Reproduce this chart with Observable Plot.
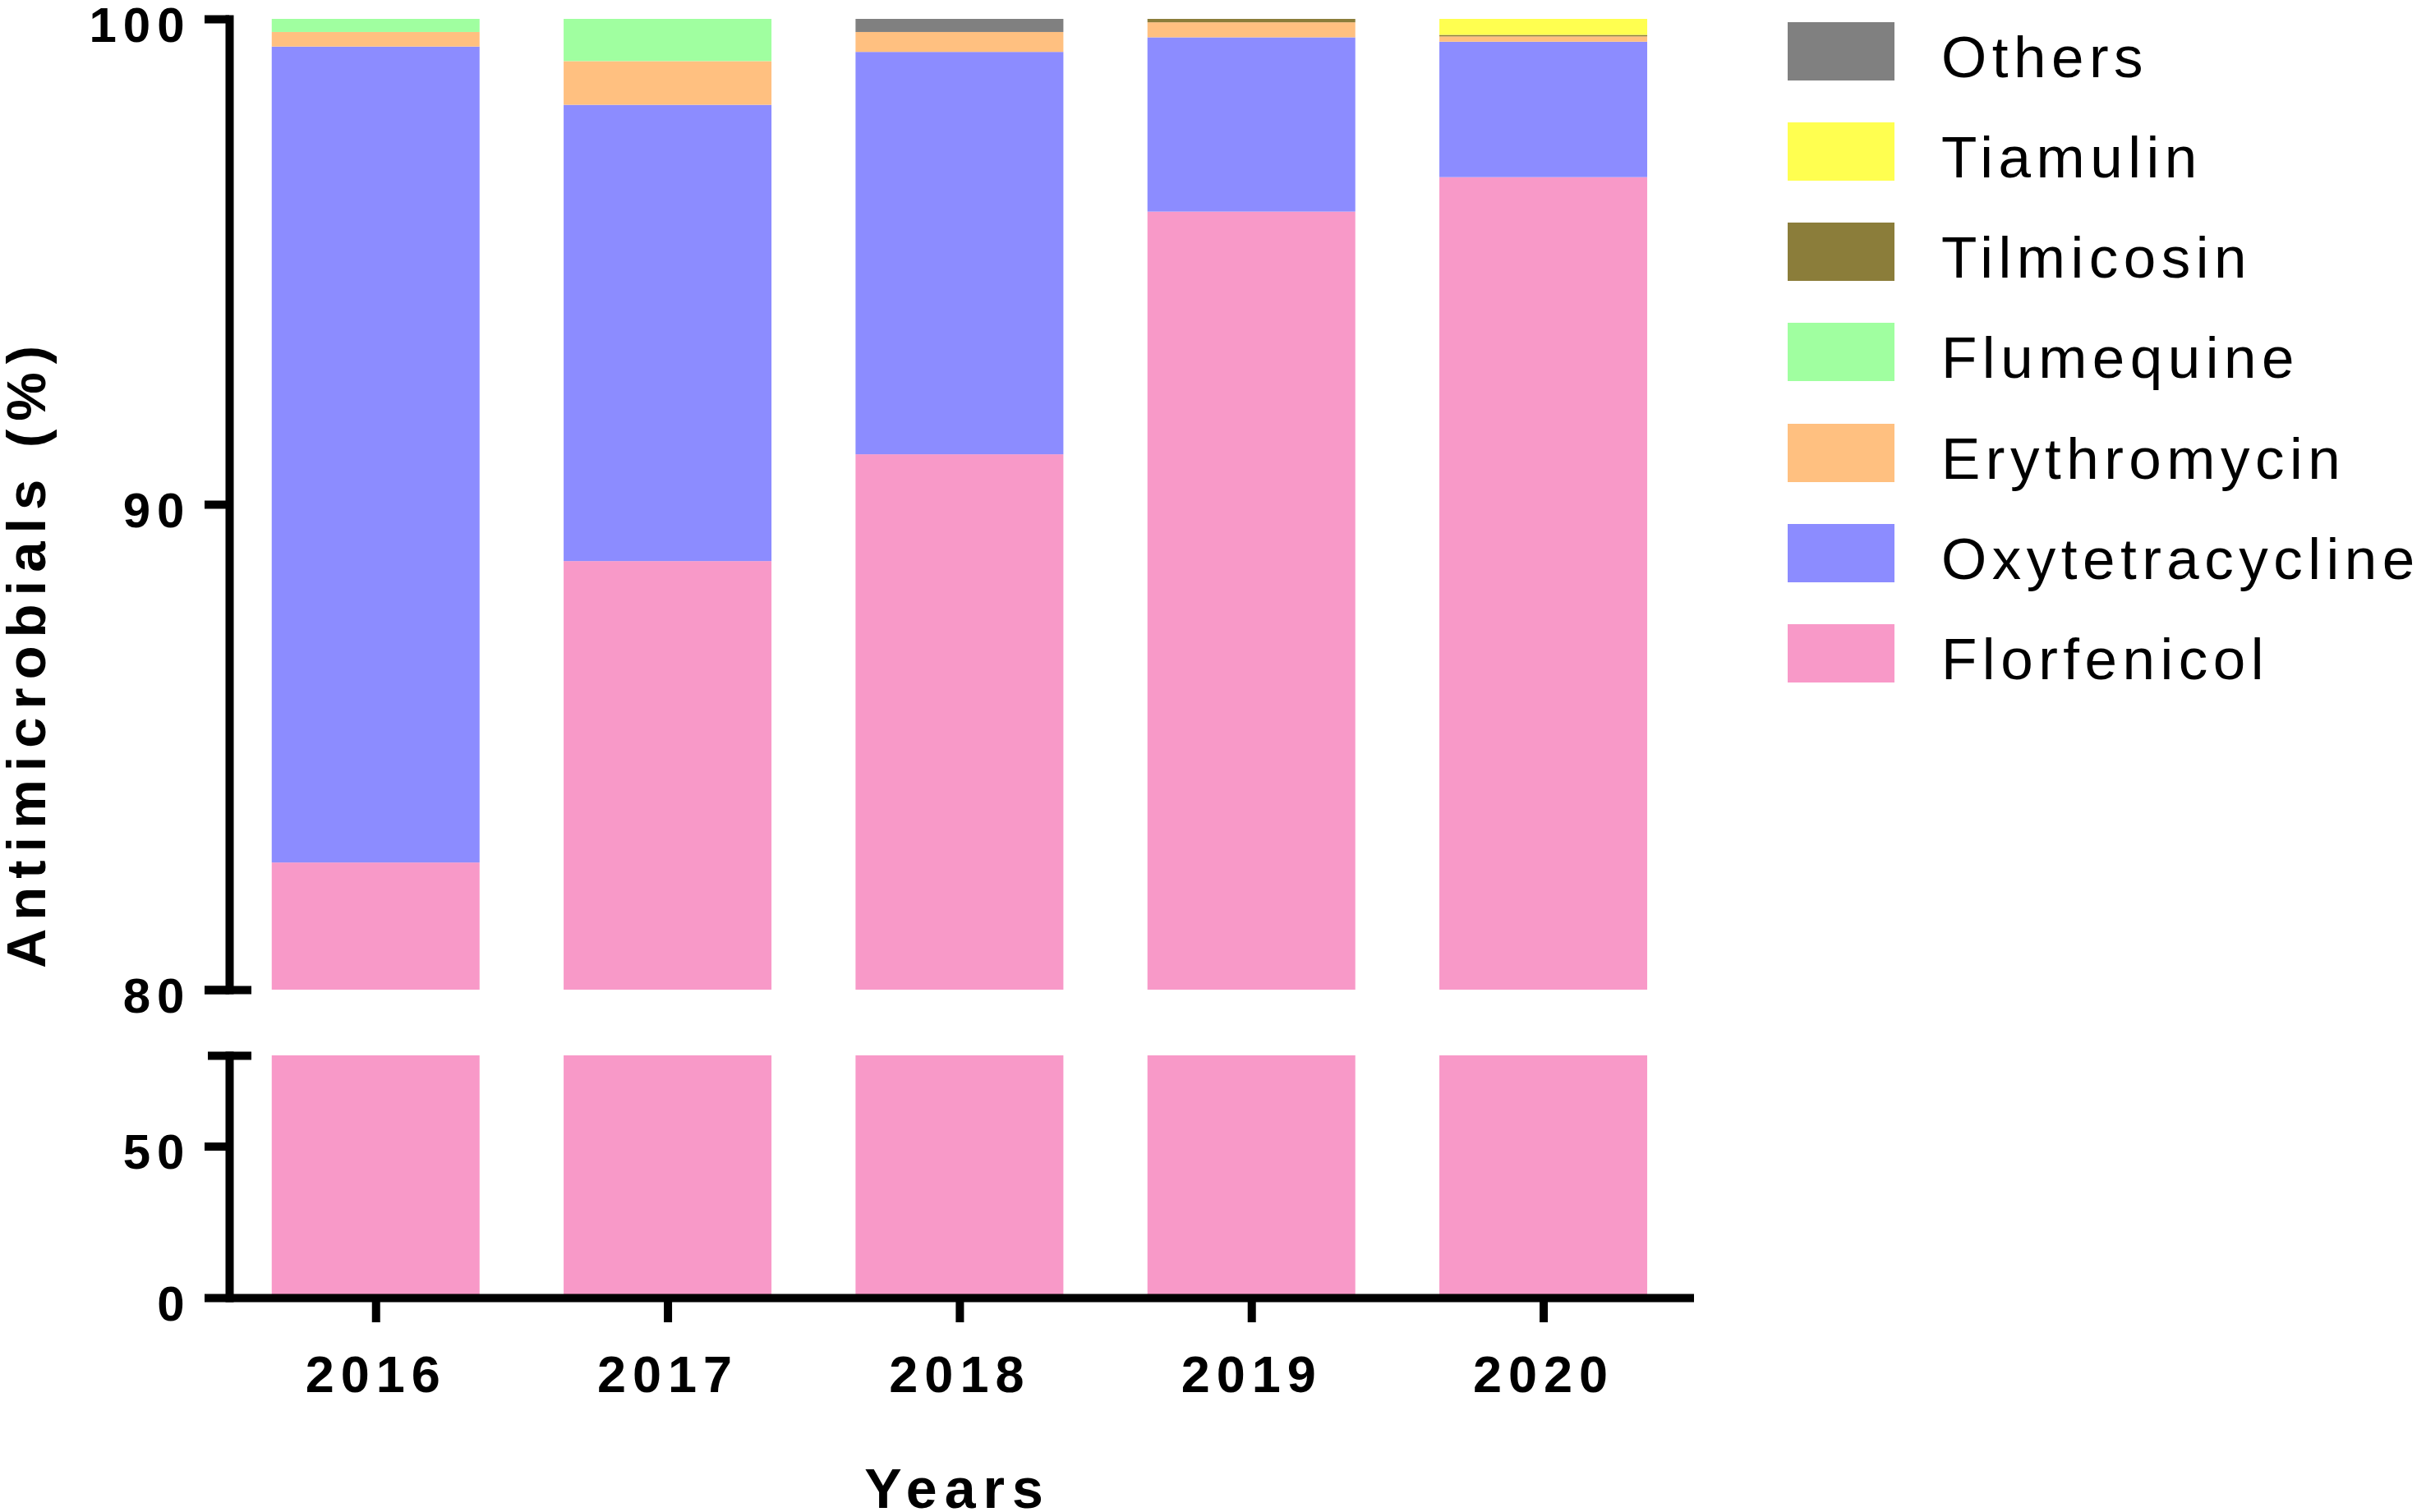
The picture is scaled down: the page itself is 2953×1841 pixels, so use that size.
<!DOCTYPE html>
<html><head><meta charset="utf-8">
<script src="https://cdn.jsdelivr.net/npm/d3@7"></script>
<script src="https://cdn.jsdelivr.net/npm/@observablehq/plot@0.6"></script>
<style>
html,body{margin:0;padding:0;background:#fff;}
#root{position:relative;width:2953px;height:1841px;overflow:hidden;background:#fff;font-family:'Liberation Sans',Arial,sans-serif;color:#000;}
.abs{position:absolute;}
svg{max-width:none !important;}
</style></head><body><div id="root"></div>
<script>
// ---- data ----
const years = ["2016", "2017", "2018", "2019", "2020"];
const drugs = ["Others", "Tiamulin", "Tilmicosin", "Flumequine", "Erythromycin", "Oxytetracycline", "Florfenicol"]; // legend order (top to bottom)
const colors = ["#808080", "#FFFF50", "#8B7D3A", "#A0FFA0", "#FFC080", "#8C8CFF", "#F899C8"];
const florfenicol     = [82.62, 88.83, 91.03, 96.03, 96.74];
const oxytetracycline = [16.81,  9.40,  8.29,  3.59,  2.79];
const erythromycin    = [ 0.30,  0.90,  0.41,  0.31,  0.11];
const flumequine      = [ 0.27,  0.87,  0.00,  0.00,  0.00];
const tilmicosin      = [ 0.00,  0.00,  0.00,  0.07,  0.03];
const tiamulin        = [ 0.00,  0.00,  0.00,  0.00,  0.33];
const others          = [ 0.00,  0.00,  0.27,  0.00,  0.00];
const upperTicks = [80, 90, 100];
const lowerTicks = [0, 50];

const series = {Florfenicol: florfenicol, Oxytetracycline: oxytetracycline, Erythromycin: erythromycin,
  Flumequine: flumequine, Tilmicosin: tilmicosin, Tiamulin: tiamulin, Others: others};
const stackOrder = drugs.slice().reverse();
const data = stackOrder.flatMap(drug => years.map((year, i) => ({year, drug, value: series[drug][i]})));

// ---- shared options ----
const font = "'Liberation Sans', Arial, sans-serif";
const xScale = {type: "band", domain: years, paddingInner: 0.288, paddingOuter: 0.153, align: 0.476, round: false};
const colorScale = {domain: drugs, range: colors};
const svgStyle = {fontFamily: font, fontWeight: "bold", fontSize: "60px", letterSpacing: "8px",
  color: "#000", background: "transparent", overflow: "visible", maxWidth: "none"};
const bars = () => Plot.barY(data, {x: "year", y: "value", fill: "drug", order: stackOrder, clip: true});

const upper = Plot.plot({
  width: 2100, height: 1240, marginTop: 23, marginBottom: 35, marginLeft: 279, marginRight: 38,
  x: {...xScale, axis: null},
  y: {domain: [80, 100], label: null},
  color: colorScale,
  style: svgStyle,
  marks: [
    bars(),
    Plot.frame({anchor: "left", stroke: "#000", strokeWidth: 10}),
    Plot.axisY({ticks: upperTicks, tickSize: 30, strokeWidth: 10, stroke: "#000", fill: "none", label: null}),
    Plot.axisY({ticks: [80], tickSize: 57, dx: 27, strokeWidth: 10, stroke: "#000", fill: "none", label: null}),
    Plot.axisY({ticks: upperTicks, tickSize: 0, tickPadding: 47, dy: 8, fontSize: 60, fill: "#000", label: null, tickFormat: d => String(d)})
  ]
});

const lower = Plot.plot({
  width: 2100, height: 600, marginTop: 45, marginBottom: 260, marginLeft: 279, marginRight: 38,
  x: xScale,
  y: {domain: [0, 80], label: null},
  color: colorScale,
  style: svgStyle,
  marks: [
    bars(),
    Plot.frame({anchor: "left", stroke: "#000", strokeWidth: 10}),
    Plot.ruleY([0], {stroke: "#000", strokeWidth: 10}),
    Plot.axisY({ticks: lowerTicks, tickSize: 30, strokeWidth: 10, stroke: "#000", fill: "none", label: null}),
    Plot.axisY({ticks: [80], tickSize: 53, dx: 27, strokeWidth: 10, stroke: "#000", fill: "none", label: null}),
    Plot.axisY({ticks: lowerTicks, tickSize: 0, tickPadding: 47, dy: 8, fontSize: 60, fill: "#000", label: null, tickFormat: d => String(d)}),
    Plot.axisX({tickSize: 30, tickPadding: 40, strokeWidth: 10, stroke: "#000", fill: "#000", fontSize: 63, label: null})
  ]
});

const root = document.getElementById("root");
function place(el, left, top) {
  const w = document.createElement("div");
  w.className = "abs";
  w.style.left = left + "px";
  w.style.top = top + "px";
  w.appendChild(el);
  root.appendChild(w);
}
place(upper, 0, 0);
place(lower, 0, 1240);

// y title
const yTitle = document.createElement("div");
yTitle.className = "abs";
Object.assign(yTitle.style, {left: "31.8px", top: "794.5px", transform: "translate(-50%,-50%) rotate(-90deg)",
  fontSize: "67px", fontWeight: "bold", letterSpacing: "10px", lineHeight: "50px", whiteSpace: "nowrap"});
yTitle.textContent = "Antimicrobials (%)";
root.appendChild(yTitle);

// x title
const xTitle = document.createElement("div");
xTitle.className = "abs";
Object.assign(xTitle.style, {left: "1165.5px", top: "1787.4px", transform: "translateX(-50%)",
  fontSize: "68px", fontWeight: "bold", letterSpacing: "9px", lineHeight: "50px", whiteSpace: "nowrap"});
xTitle.textContent = "Years";
root.appendChild(xTitle);

// legend
drugs.forEach((d, i) => {
  const cy = 62 + i * 122.3;
  const sw = document.createElement("div");
  sw.className = "abs";
  Object.assign(sw.style, {left: "2176px", top: (cy - 35.5) + "px", width: "130px", height: "71px", background: colors[i]});
  root.appendChild(sw);
  const lab = document.createElement("div");
  lab.className = "abs";
  Object.assign(lab.style, {left: "2363px", top: (cy - 28.5) + "px", fontSize: "71px", lineHeight: "71px",
    letterSpacing: "6.5px", whiteSpace: "nowrap"});
  lab.textContent = d;
  root.appendChild(lab);
});
</script></body></html>
